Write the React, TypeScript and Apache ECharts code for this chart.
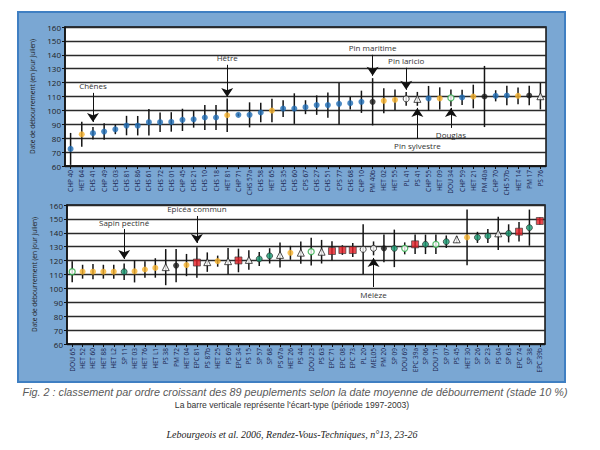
import React, { useEffect, useRef } from "react";
import * as echarts from "echarts";

const topCats = ["CHP 40","HET 64","CHS 41","CHP 49","CHS 03","CHS 81","CHS 86","CHS 61","CHS 72","CHS 01","CHP 45","CHS 21","CHS 10","CHS 18","HET 81","CHP 71","CHS 57a","CHS 58","HET 65","CHS 35","CHS 60","CPS 67","CHS 27","CHS 51","CPS 77","CHS 68","CHP 10","PM 40b","HET 02","HET 55","PL 41","PS 41","CHP 55","HET 09","DOU 34","CHP 59","HET 21","PM 40a","CHP 70","CHS 57b","HET 14","PM 17","PS 76"];
const topMean = [72.3,82.8,83.6,84.8,86.4,89.1,89.0,91.5,91.5,91.7,93.2,93.6,94.9,94.9,96.5,96.8,96.8,98.5,99.9,101.3,101.3,102.3,103.8,103.8,104.7,105.2,106.2,106.2,106.9,107.6,108.3,108.3,108.6,108.6,109.0,109.3,110.0,110.0,110.5,110.7,110.5,110.7,110.2];
const topSd = [11.5,9,4.5,6,3.5,7,7,9.5,7,7,8,6,9,9,12,1,9,7,8.5,6,11,5,7,9,15,4.5,8,17,9,7.5,5,5,9,8,6,5.5,8.5,22,4,7,6,7,9.5];
const topGroup = ["C","H","C","C","C","C","C","C","C","C","C","C","C","C","H","C","C","C","H","C","C","C","C","C","C","C","C","PM","H","H","PL","PS","C","H","D","C","H","PM","C","C","H","PM","PS"];

const botCats = ["DOU 65","HET 52","HET 60","HET 88","HET L2","SP 11","HET 03","HET 76","HET L1","PS 38","PM 72","HET 04","EPC 81","PS 87b","HET 25","PS 69","EPC 34","PS 15","SP 57","SP 68","PS 67a","HET 26","PS 44","DOU 23","PS 63","EPC 71","EPC 08","EPC 73","PL 20","MEL05","PM 20","SP 09","DOU 69","EPC 39a","SP 06","DOU 71","SP 07","PS 45","HET 30","SP 26","SP 23","PS 04","SP 63","EPC 74","SP 38","EPC 39b"];
const botMean = [112,112,112,112,112,112,112.3,113.6,114.7,115.3,116.4,116.8,118.6,118.9,119.6,119.6,120.1,120.5,121.2,123.4,124.1,125.6,125.7,126.4,126.4,126.9,127.6,127.6,128.1,128.8,128.8,128.8,128.8,131.7,131.7,131.7,133.6,135.3,136.7,136.7,137.7,139.6,139.6,140.8,143.7,148.5];
const botSd = [7.5,5,5.5,5,5,6,8,6,7,13,12,8,11,7,4,9.5,8.5,7,5,5.5,9,5,8,10,8.5,7,3.5,5,18,5,10,13.5,4.3,7,7,7,4.5,2.5,20,4,5,12,6.5,7,13,2.5];
const botGroup = ["D","H","H","H","H","SP","H","H","H","PS","PM","H","E","PS","H","PS","E","PS","SP","SP","PS","H","PS","D","PS","E","E","E","PL","M","PM","SP","D","E","SP","D","SP","PS","H","SP","SP","PS","SP","E","SP","E"];

// annotations: [label, category, start value, end value]
const topNotes: [string, string, number, number][] = [
  ["Chênes", "CHS 41", 112.6, 91.7],
  ["Hêtre", "HET 81", 132.8, 109.7],
  ["Pin maritime", "PM 40b", 140, 124.9],
  ["Pin laricio", "PL 41", 130.7, 114.8],
  ["Douglas", "DOU 34", 87.4, 101.8],
  ["Pin sylvestre", "PS 41", 79.5, 101.8],
];
const botNotes: [string, string, number, number][] = [
  ["Sapin pectiné", "SP 11", 142.7, 121.2],
  ["Épicéa commun", "EPC 81", 152.1, 132.7],
  ["Mélèze", "MEL05", 101, 121.9],
];

const groupStyle: Record<string, any> = {
  C: { symbol: "circle", size: 6, itemStyle: { color: "#1f6db5" } },
  H: { symbol: "circle", size: 6, itemStyle: { color: "#f6b12c" } },
  PM: { symbol: "circle", size: 6, itemStyle: { color: "#1a1a1a" } },
  PL: { symbol: "circle", size: 6, itemStyle: { color: "#ffffff", borderColor: "#222", borderWidth: 1 } },
  M: { symbol: "circle", size: 6, itemStyle: { color: "#ffffff", borderColor: "#222", borderWidth: 1 } },
  PS: { symbol: "triangle", size: 7, itemStyle: { color: "#ffffff", borderColor: "#222", borderWidth: 1 } },
  D: { symbol: "circle", size: 6, itemStyle: { color: "#ffffff", borderColor: "#2fae4a", borderWidth: 1.3 } },
  SP: { symbol: "circle", size: 6, itemStyle: { color: "#1a9b73", borderColor: "#222", borderWidth: 0.8 } },
  E: { symbol: "rect", size: 7, itemStyle: { color: "#e41e26", borderColor: "#333", borderWidth: 0.8 } },
};

function buildSeries(gi: number, cats: string[], mean: number[], sd: number[], group: string[], notes: [string, string, number, number][]) {
  const errSeries = {
    type: "custom",
    xAxisIndex: gi,
    yAxisIndex: gi,
    silent: true,
    encode: { x: 0, y: 1 },
    data: mean.map((m, i) => [i, m, sd[i]]),
    renderItem: (params: any, api: any) => {
      const x = api.value(0);
      const m = api.value(1);
      const s = api.value(2);
      const a = api.coord([x, m + s]);
      const b = api.coord([x, m - s]);
      return {
        type: "line",
        shape: { x1: a[0], y1: a[1], x2: b[0], y2: b[1] },
        style: { stroke: "#151515", lineWidth: 1.5 },
      };
    },
    z: 3,
  };
  const ptSeries = {
    type: "scatter",
    xAxisIndex: gi,
    yAxisIndex: gi,
    silent: true,
    z: 5,
    data: mean.map((m, i) => {
      const g = groupStyle[group[i]];
      return { value: [i, m], symbol: g.symbol, symbolSize: g.size, itemStyle: g.itemStyle };
    }),
    markLine: {
      silent: true,
      symbol: ["none", "arrow"],
      symbolSize: 9,
      lineStyle: { color: "#111", width: 1, type: "solid" },
      label: { show: true, position: "start", color: "#333", fontSize: 8, fontFamily: "Open Sans", distance: 3 },
      data: notes.map((n) => [
        { coord: [n[1], n[2]], name: n[0], label: { formatter: n[0] } },
        { coord: [n[1], n[3]] },
      ]),
    },
  };
  return [errSeries, ptSeries];
}

export default function App() {
  const ref = useRef<HTMLDivElement>(null);
  useEffect(() => {
    const chart = echarts.init(ref.current!, null, { renderer: "svg" });
    const yAxisBase = (gi: number) => ({
      type: "value",
      gridIndex: gi,
      min: 60,
      max: 160,
      interval: 10,
      name: "Date de débourrement (en jour julien)",
      nameLocation: "middle",
      nameGap: 24,
      nameTextStyle: { fontSize: 6.5, color: "#222", fontFamily: "Open Sans" },
      axisLine: { show: true, lineStyle: { color: "#111", width: 1.5 } },
      axisTick: { show: true, length: 3, lineStyle: { color: "#111" } },
      axisLabel: { fontSize: 8, color: "#222", margin: 4, fontFamily: "Open Sans" },
      splitLine: { show: true, lineStyle: { color: "#2a2a2a", width: 1.4 } },
    });
    const xAxisBase = (gi: number, cats: string[]) => ({
      type: "category",
      gridIndex: gi,
      data: cats,
      axisLine: { show: true, lineStyle: { color: "#111", width: 1.5 } },
      axisTick: { show: true, alignWithLabel: true, length: 3, lineStyle: { color: "#111" } },
      axisLabel: { rotate: 90, interval: 0, fontSize: 6.5, color: "#1c2550", margin: 4, fontFamily: "Open Sans" },
      splitLine: { show: false },
    });
    chart.setOption({
      animation: false,
      grid: [
        { left: 65, top: 27, width: 481, height: 139, show: true, backgroundColor: "#ffffff", borderColor: "#111", borderWidth: 1.5 },
        { left: 67, top: 205, width: 478, height: 139, show: true, backgroundColor: "#ffffff", borderColor: "#111", borderWidth: 1.5 },
      ],
      xAxis: [xAxisBase(0, topCats), xAxisBase(1, botCats)],
      yAxis: [yAxisBase(0), yAxisBase(1)],
      graphic: [
        { type: "rect", z: -10, silent: true, shape: { x: 18, y: 12, width: 547, height: 370 }, style: { fill: "#7aa7d3", stroke: "#3f7fc2", lineWidth: 2 } },
        { type: "text", silent: true, x: 295, y: 392, style: { text: "Fig. 2 : classement par ordre croissant des 89 peuplements selon la date moyenne de débourrement (stade 10 %)", fill: "#5a5a5a", fontSize: 10.8, fontStyle: "italic", fontFamily: "Liberation Sans", textAlign: "center", textVerticalAlign: "middle" } },
        { type: "text", silent: true, x: 292, y: 405, style: { text: "La barre verticale représente l'écart-type (période 1997-2003)", fill: "#333", fontSize: 8.6, fontFamily: "Liberation Sans", textAlign: "center", textVerticalAlign: "middle" } },
        { type: "text", silent: true, x: 292, y: 434, style: { text: "Lebourgeois et al. 2006, Rendez-Vous-Techniques, n°13, 23-26", fill: "#222", fontSize: 10, fontStyle: "italic", fontFamily: "Liberation Serif", textAlign: "center", textVerticalAlign: "middle" } },
      ],
      series: [
        ...buildSeries(0, topCats, topMean, topSd, topGroup, topNotes),
        ...buildSeries(1, botCats, botMean, botSd, botGroup, botNotes),
      ],
    });
    return () => chart.dispose();
  }, []);
  return <div ref={ref} style={{ position: "fixed", left: 0, top: 0, width: 600, height: 450, background: "#fff" }} />;
}
